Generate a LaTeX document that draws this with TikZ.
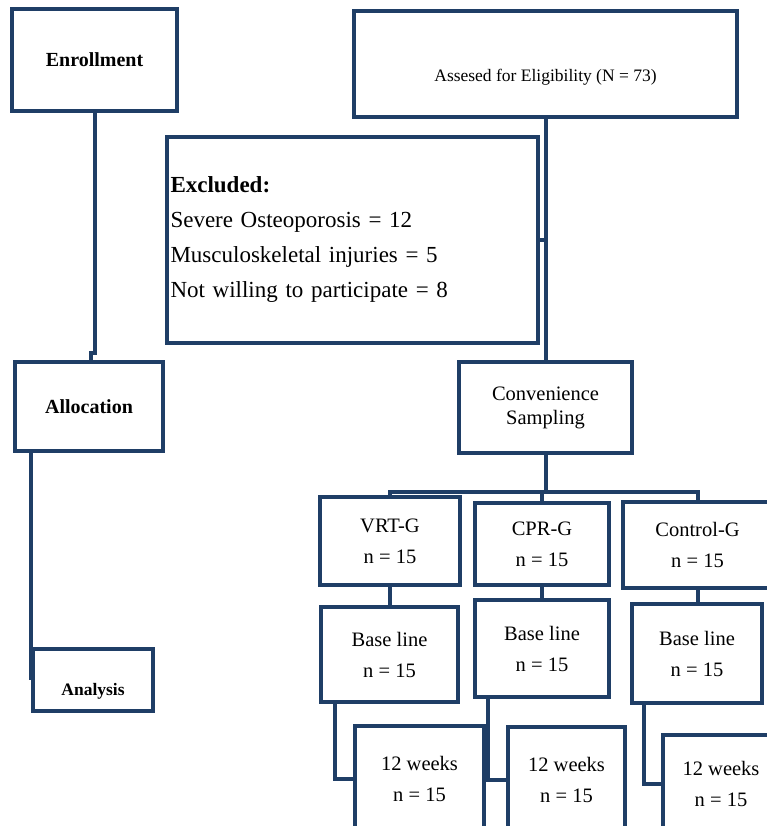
\documentclass[tikz,border=0pt]{standalone}
\usepackage{fontspec}
\setmainfont{Liberation Serif}
\usetikzlibrary{positioning, calc}

\definecolor{flowblue}{HTML}{1F3E66}

\begin{document}
\begin{tikzpicture}[
		x=1pt, y=1pt,
		% Style for the boxes
		box/.style={
			draw=flowblue, line width=4pt, rectangle,
			inner sep=0pt, align=center,
			font=\fontsize{20.5}{31}\selectfont
		},
		% Style for the connecting lines
		link/.style={draw=flowblue, line width=4pt},
		% Stage titles on the left
		stage/.style={font=\bfseries\fontsize{20}{24}\selectfont}
		]
		
		\useasboundingbox (0,0) rectangle (766,-826);
		
		% ==============================================================================
		% LEFT COLUMN: STAGES
		% ==============================================================================
		\node[box, stage, minimum width=165pt, minimum height=102pt] (enroll) at (94.5,-60) {Enrollment};
		\node[box, stage, minimum width=148pt, minimum height=89pt] (alloc) at (89,-406.5) {Allocation};
		\node[box, minimum width=120pt, minimum height=62pt] (analysis) at (93,-680) {};
		\node[stage, font=\bfseries\fontsize{17.5}{21}\selectfont] (analysis_txt) at ($(analysis.center)+(0,-11)$) {Analysis};
		
		% ==============================================================================
		% RIGHT COLUMN: FLOW
		% ==============================================================================
		\node[box, minimum width=383pt, minimum height=106pt] (assess) at (545.5,-64) {};
		\node[font=\fontsize{17.5}{21}\selectfont] (assess_txt) at ($(assess.center)+(0,-13)$) {Assesed for Eligibility (N = 73)};
		
		\node[box, align=left, minimum width=371pt, minimum height=206pt, text width=364pt,
			font=\fontsize{23}{35}\selectfont] (excl) at (352.5,-240) {
			\textbf{Excluded:}\\
			Severe Osteoporosis = 12\\
			Musculoskeletal injuries = 5\\
			Not willing to participate = 8
		};
		
		\node[box, minimum width=173pt, minimum height=91pt, font=\fontsize{20.5}{24}\selectfont] (conv) at (545.5,-407.5) {Convenience\\ Sampling};
		\coordinate (bus) at ($(conv.south)+(0,-37)$);
		
		% === Groups ===
		\node[box, minimum width=140pt, minimum height=88pt] (vrt) at (390,-541) {VRT-G\\ n = 15};
		\node[box, minimum width=134pt, minimum height=82pt] (cpr) at (542,-544) {CPR-G\\ n = 15};
		\node[box, minimum width=149pt, minimum height=86pt] (ctrl) at (697.5,-545) {Control-G\\ n = 15};
		
		% === Base line ===
		\node[box, minimum width=137pt, minimum height=95pt] (vrt_base) at (389.5,-654.5) {Base line\\ n = 15};
		\node[box, minimum width=134pt, minimum height=97pt] (cpr_base) at (542,-648.5) {Base line\\ n = 15};
		\node[box, minimum width=130pt, minimum height=99pt] (ctrl_base) at (697,-653.5) {Base line\\ n = 15};
		
		% === 12 weeks ===
		\node[box, minimum width=129pt, minimum height=106pt] (vrt_wk) at (419.5,-779) {12 weeks\\ n = 15};
		\node[box, minimum width=117pt, minimum height=105pt] (cpr_wk) at (566.5,-779.5) {12 weeks\\ n = 15};
		\node[box, minimum width=116pt, minimum height=97pt] (ctrl_wk) at (721,-783.5) {12 weeks\\ n = 15};
		
		% --- Connectors ---
		\draw[link] (enroll.south) |- ($(alloc.north)+(2,7)$) -- ($(alloc.north)+(2,0)$);
		\draw[link] (alloc.south -| analysis.west) -- (analysis.west);
		
		\draw[link] (assess.south) -- (conv.north);
		\draw[link] (excl.east) -- (excl.east -| assess.south);
		
		\draw[link] (conv.south) -- (bus);
		\draw[link] (bus) -| (vrt.north);
		\draw[link] (bus) -| (cpr.north);
		\draw[link] (bus) -| (ctrl.north);
		
		\draw[link] (vrt.south) -- (vrt.south |- vrt_base.north);
		\draw[link] (cpr.south) -- (cpr.south |- cpr_base.north);
		\draw[link] (ctrl.south) -- (ctrl.south |- ctrl_base.north);
		
		\draw[link] ($(vrt_base.south west)+(16,0)$) |- (vrt_wk.west);
		\draw[link] ($(cpr_base.south west)+(15,0)$) |- (cpr_wk.west);
		\draw[link] ($(ctrl_base.south west)+(14,0)$) |- (ctrl_wk.west);
		
	\end{tikzpicture}
\end{document}
